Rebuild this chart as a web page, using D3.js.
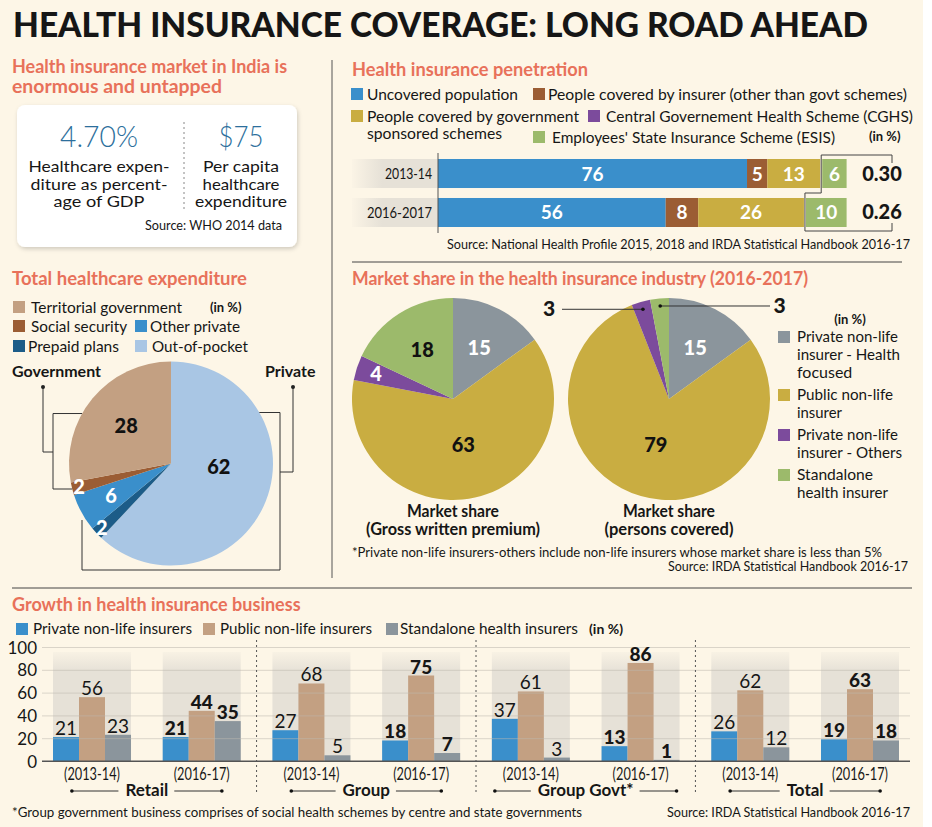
<!DOCTYPE html>
<html><head><meta charset="utf-8">
<script src="https://cdn.jsdelivr.net/npm/d3@7"></script>
<style>
body{margin:0;background:#fff;}
svg{display:block;font-family:Lato,"Open Sans",sans-serif;}
</style></head><body>
<svg id="c" width="932" height="827"></svg>
<script>
// ---------------- DATA ----------------
const statValues = ["4.70%", "$75"];
const statLabels = [["Healthcare expen-", "diture as percent-", "age of GDP"], ["Per capita", "healthcare", "expenditure"]];

const penetrationYears = ["2013-14", "2016-2017"];
const penetrationKeys = ["Uncovered population", "People covered by insurer (other than govt schemes)", "People covered by government sponsored schemes", "Employees' State Insurance Scheme (ESIS)"];
const uncoveredPop = [76, 56];
const insurerCovered = [5, 8];
const govtSchemes = [13, 26];
const esisCovered = [6, 10];
const cghsCovered = ["0.30", "0.26"];

const expenditureCats = ["Territorial government", "Social security", "Other private", "Prepaid plans", "Out-of-pocket"];
const expenditureVals = [28, 2, 6, 2, 62];

const marketCats = ["Private non-life insurer - Health focused", "Public non-life insurer", "Private non-life insurer - Others", "Standalone health insurer"];
const marketGWP = [15, 63, 4, 18];
const marketPersons = [15, 79, 3, 3];

const growthGroups = ["Retail", "Group", "Group Govt*", "Total"];
const growthPeriods = ["(2013-14)", "(2016-17)"];
const growthSeries = ["Private non-life insurers", "Public non-life insurers", "Standalone health insurers"];
const privateNonLife = [21, 21, 27, 18, 37, 13, 26, 19];
const publicNonLife = [56, 44, 68, 75, 61, 86, 62, 63];
const standaloneHealth = [23, 35, 5, 7, 3, 1, 12, 18];
const growthTicks = [0, 20, 40, 60, 80, 100];

// ---------------- STYLE ----------------
const C = {cream:"#fdf6e7", orange:"#e8715a", blue:"#3a8fcb", brown:"#9b5d34", gold:"#c9ad41",
  purple:"#7c4b9c", green:"#9cba6b", grey:"#8b959c", tan:"#c3a082", lightblue:"#a9c6e4",
  darkblue:"#1c5c88", ink:"#161616", band:"#e6e1d7", statBlue:"#2d6f9c"};

const svg = d3.select("#c");
const defs = svg.append("defs");
const f = defs.append("filter").attr("id","sh").attr("x","-10%").attr("y","-10%").attr("width","120%").attr("height","130%");
f.append("feDropShadow").attr("dx",1).attr("dy",2).attr("stdDeviation",2).attr("flood-opacity",0.18);
const gh = defs.append("linearGradient").attr("id","gh").attr("x1",0).attr("x2",1).attr("y1",0).attr("y2",0);
gh.append("stop").attr("offset",0).attr("stop-color",C.band).attr("stop-opacity",0.1);
gh.append("stop").attr("offset",0.35).attr("stop-color",C.band).attr("stop-opacity",1);
gh.append("stop").attr("offset",1).attr("stop-color",C.band).attr("stop-opacity",1);
const gv = defs.append("linearGradient").attr("id","gv").attr("x1",0).attr("x2",0).attr("y1",0).attr("y2",1);
gv.append("stop").attr("offset",0).attr("stop-color",C.band).attr("stop-opacity",0.2);
gv.append("stop").attr("offset",0.18).attr("stop-color",C.band).attr("stop-opacity",1);
gv.append("stop").attr("offset",1).attr("stop-color",C.band).attr("stop-opacity",1);

function txt(g, x, y, s, o = {}) {
  const t = g.append("text").attr("x", x).attr("y", y).text(s)
    .attr("font-size", o.size || 16).attr("font-weight", o.weight || 400)
    .attr("fill", o.fill || C.ink).attr("text-anchor", o.anchor || "start");
  if (o.w) {
    const L = t.node().getComputedTextLength();
    if (Math.abs(L - o.w) > 1.5) t.attr("textLength", o.w).attr("lengthAdjust", "spacingAndGlyphs");
  }
  return t;
}

svg.append("rect").attr("width", 923).attr("height", 827).attr("fill", C.cream);

// main title
txt(svg, 13, 37, "HEALTH INSURANCE COVERAGE: LONG ROAD AHEAD", {size: 34, weight: 900, w: 855});

// dividers
svg.append("line").attr("x1",332).attr("x2",332).attr("y1",60).attr("y2",578).attr("stroke","#555").attr("stroke-width",1);
svg.append("line").attr("x1",352).attr("x2",902).attr("y1",262).attr("y2",262).attr("stroke","#444").attr("stroke-width",1);
svg.append("line").attr("x1",12).attr("x2",912).attr("y1",588).attr("y2",588).attr("stroke","#444").attr("stroke-width",1);

// ---------------- A: key stats ----------------
txt(svg, 12, 73, "Health insurance market in India is", {size:18, weight:700, fill:C.orange, w:276});
txt(svg, 12, 93, "enormous and untapped", {size:18, weight:700, fill:C.orange, w:210});
svg.append("rect").attr("x",17).attr("y",105).attr("width",280).attr("height",142).attr("rx",8)
  .attr("fill","#fff").attr("filter","url(#sh)");
const statX = [99, 241];
const statW = [78, 45];
const labW = [[141,137,91],[76,77,92]];
statValues.forEach((v,i) => {
  txt(svg, statX[i], 147, v, {size:29, weight:300, fill:C.statBlue, anchor:"middle", w:statW[i]});
  statLabels[i].forEach((l,j) => txt(svg, statX[i], 172 + j*17.5, l, {size:16, anchor:"middle", w:labW[i][j]}));
});
svg.append("line").attr("x1",184).attr("x2",184).attr("y1",122).attr("y2",212)
  .attr("stroke","#888").attr("stroke-dasharray","2,3");
txt(svg, 282, 230, "Source: WHO 2014 data", {size:13.5, anchor:"end", w:137});

// ---------------- B: penetration ----------------
txt(svg, 352, 76, "Health insurance penetration", {size:18, weight:700, fill:C.orange, w:236});
const penColors = [C.blue, C.brown, C.gold, C.green];
const penLegend = [
  {c:C.blue, x:351, y:88, tx:367, lines:["Uncovered population"], w:[151]},
  {c:C.brown, x:533, y:88, tx:548, lines:["People covered by insurer (other than govt schemes)"], w:[359]},
  {c:C.gold, x:351, y:110, tx:367, lines:["People covered by government", "sponsored schemes"], w:[212,135]},
  {c:C.purple, x:588, y:110, tx:606, lines:["Central Governement Health Scheme (CGHS)"], w:[307]},
  {c:C.green, x:533, y:131, tx:552, lines:["Employees' State Insurance Scheme (ESIS)"], w:[283]}
];
penLegend.forEach(d => {
  svg.append("rect").attr("x",d.x).attr("y",d.y).attr("width",12).attr("height",12).attr("fill",d.c);
  d.lines.forEach((l,j) => txt(svg, d.tx, d.y + 12 + j*17, l, {size:16, w:d.w[j]}));
});
txt(svg, 869, 141, "(in %)", {size:13, weight:700, w:33});

const penRows = penetrationYears.map((y,i) => ({year:y, u:uncoveredPop[i], i1:insurerCovered[i], g:govtSchemes[i], e:esisCovered[i], cghs:cghsCovered[i]}));
const stack = d3.stack().keys(["u","i1","g","e"])(penRows);
const px = d3.scaleLinear().domain([0,100]).range([438, 844.6]);
const py = d3.scaleBand().domain(penetrationYears).range([159,227]).paddingInner(0.256).paddingOuter(0);
penetrationYears.forEach(y => {
  svg.append("rect").attr("x",352).attr("y",py(y)).attr("width",86).attr("height",py.bandwidth()).attr("fill","url(#gh)");
  txt(svg, 432, py(y) + py.bandwidth()/2 + 5.5, y, {size:15.5, anchor:"end", w: y.length > 7 ? 65 : 47});
});
stack.forEach((s,k) => {
  const gap = k === 3 ? 2 : 0;
  s.forEach((d,i) => {
    const x0 = px(d[0]) + gap, x1 = px(d[1]) + gap;
    svg.append("rect").attr("x",x0).attr("y",py(penetrationYears[i])).attr("width",x1-x0)
      .attr("height",py.bandwidth()).attr("fill",penColors[k]);
    txt(svg, (x0+x1)/2, py(penetrationYears[i]) + py.bandwidth()/2 + 7, d[1]-d[0],
      {size:19, weight:700, fill:"#fff", anchor:"middle"});
  });
});
svg.append("line").attr("x1",438).attr("x2",438).attr("y1",153).attr("y2",233).attr("stroke","#555");
// bracket around ESIS & CGHS
{
  const xa = px(stack[2][0][1]) + 1, xb = px(stack[2][1][1]) + 1, xr = 892;
  const top = 155, bot = 231, mid = (py(penetrationYears[0]) + py.bandwidth() + py(penetrationYears[1]))/2;
  svg.append("path").attr("d",`M${xr},${top+8}V${top}H${xa}V${mid}H${xb}V${bot}H${xr}V${bot-8}`)
    .attr("fill","none").attr("stroke","#444").attr("stroke-width",1);
}
penRows.forEach(r => txt(svg, 882, py(r.year) + py.bandwidth()/2 + 7, r.cghs, {size:20, weight:900, anchor:"middle", w:41}));
txt(svg, 910, 249, "Source: National Health Profile 2015, 2018 and IRDA Statistical Handbook 2016-17", {size:13.5, anchor:"end", w:463});

// ---------------- C: total healthcare expenditure ----------------
txt(svg, 12, 285, "Total healthcare expenditure", {size:18, weight:700, fill:C.orange, w:235});
const expColors = [C.tan, C.brown, C.blue, C.darkblue, C.lightblue];
const expLabelFill = ["#111", "#fff", "#fff", "#fff", "#111"];
const expLegend = [
  {i:0, x:13, y:301, tx:31, w:151},
  {i:1, x:13, y:320, tx:31, w:96},
  {i:2, x:135, y:320, tx:150, w:90},
  {i:3, x:13, y:340, tx:28, w:91},
  {i:4, x:135, y:340, tx:152, w:96}
];
expLegend.forEach(d => {
  svg.append("rect").attr("x",d.x).attr("y",d.y).attr("width",12).attr("height",12).attr("fill",expColors[d.i]);
  txt(svg, d.tx, d.y + 11.5, expenditureCats[d.i], {size:16, w:d.w});
});
txt(svg, 210, 312, "(in %)", {size:13, weight:700, w:33});
txt(svg, 12, 377, "Government", {size:16, weight:700, w:88});
txt(svg, 265, 377, "Private", {size:16, weight:700, w:50});

const ecx = 171, ecy = 463.5, er = 102;
const expOrder = [4, 3, 2, 1, 0];
const expPie = d3.pie().sort(null).value(d => d.v)(expOrder.map(i => ({i, v:expenditureVals[i]})));
const arcE = d3.arc().innerRadius(0).outerRadius(er);
const gE = svg.append("g").attr("transform",`translate(${ecx},${ecy})`);
gE.selectAll("path").data(expPie).join("path").attr("d",arcE).attr("fill",d => expColors[d.data.i]);
function labelFactor(v){ return v <= 2 ? 0.93 : v <= 4 ? 0.8 : v < 10 ? 0.67 : v < 50 ? 0.57 : 0.47; }
expPie.forEach(d => {
  // largest slice label sits a little higher (closer to horizontal) as in the reference
  const a0 = (d.startAngle + d.endAngle)/2;
  const a = d.data.v >= 50 ? a0 - 0.3 : a0;
  const rr = er * labelFactor(d.data.v);
  txt(gE, Math.sin(a)*rr, -Math.cos(a)*rr + 7, d.data.v, {size:20, weight:900, fill:expLabelFill[d.data.i], anchor:"middle"});
});
// brackets
{
  const ln = {fill:"none", stroke:"#333", "stroke-width":1};
  const yTop = ecy - 0.49*er, yBotG = ecy + 0.25*er;
  const edgeX = dy => ecx - Math.sqrt(er*er - dy*dy);
  const pg = svg.append("path").attr("d",
    `M${edgeX(yTop-ecy)},${yTop}H${ecx-118}V${yBotG}H${edgeX(yBotG-ecy)}M${ecx-118},${ecy-11.5}H${ecx-128}V${ecy-76.5}`);
  const pp = svg.append("path").attr("d",
    `M${ecx + Math.sqrt(er*er - (0.5*er)**2)},${ecy-0.5*er}H${ecx+109}V${ecy+106.5}H${ecx-89}V${ecy+56.5}M${ecx+109},${ecy+8.5}H${ecx+122}V${ecy-76.5}`);
  [pg, pp].forEach(p => Object.entries(ln).forEach(([k,v]) => p.attr(k,v)));
  [[ecx-128, ecy-76.5],[ecx+122, ecy-76.5]].forEach(p => svg.append("circle").attr("cx",p[0]).attr("cy",p[1]).attr("r",2).attr("fill","#222"));
}

// ---------------- D: market share ----------------
txt(svg, 352, 285, "Market share in the health insurance industry (2016-2017)", {size:18, weight:700, fill:C.orange, w:456});
const mColors = [C.grey, C.gold, C.purple, C.green];
const mLabelFill = ["#fff", "#111", "#fff", "#111"];
const mr = 101, mcy = 399;
const marketPies = [
  {vals: marketGWP, cx: 453, cap: ["Market share", "(Gross written premium)"], capW: [92,174]},
  {vals: marketPersons, cx: 669, cap: ["Market share", "(persons covered)"], capW: [92,128]}
];
const arcM = d3.arc().innerRadius(0).outerRadius(mr);
marketPies.forEach((p, pi) => {
  const arcs = d3.pie().sort(null).value(d => d)(p.vals);
  const g = svg.append("g").attr("transform",`translate(${p.cx},${mcy})`);
  g.selectAll("path").data(arcs).join("path").attr("d",arcM).attr("fill",(d,i) => mColors[i]);
  let extCount = 0;
  arcs.forEach((d,i) => {
    const a = (d.startAngle + d.endAngle)/2;
    if (pi === 1 && d.value <= 3) {
      const rr = mr*0.925, dx = Math.sin(a)*rr, dy = -Math.cos(a)*rr;
      const left = extCount === 0; extCount++;
      const xe = left ? -mr - 6 : mr;
      g.append("line").attr("x1",dx).attr("y1",dy).attr("x2",xe).attr("y2",dy).attr("stroke","#333").attr("stroke-width",1);
      g.append("circle").attr("cx",dx).attr("cy",dy).attr("r",1.8).attr("fill","#111");
      txt(g, left ? -mr - 19 : mr + 9.5, dy + 7, d.value, {size:21, weight:900, anchor:"middle"});
    } else {
      const rr = mr * labelFactor(d.value);
      txt(g, Math.sin(a)*rr, -Math.cos(a)*rr + 7, d.value, {size:20, weight:900, fill:mLabelFill[i], anchor:"middle"});
    }
  });
  p.cap.forEach((c,j) => txt(svg, p.cx, 517 + j*18, c, {size:16.5, weight:700, anchor:"middle", w:p.capW[j]}));
});
txt(svg, 850, 324, "(in %)", {size:13, weight:700, anchor:"middle", w:33});
const mLegendLines = [["Private non-life", "insurer - Health", "focused"], ["Public non-life", "insurer"], ["Private non-life", "insurer - Others"], ["Standalone", "health insurer"]];
const mLegendW = [[101,103,54],[96,45],[101,105],[76,91]];
let ly = 342;
mLegendLines.forEach((lines,i) => {
  svg.append("rect").attr("x",778).attr("y",ly-11).attr("width",12).attr("height",12).attr("fill",mColors[i]);
  lines.forEach((l,j) => txt(svg, 797, ly + j*18, l, {size:16, w:mLegendW[i][j]}));
  ly += lines.length*18 + 4;
});
txt(svg, 352, 557, "*Private non-life insurers-others include non-life insurers whose market share is less than 5%", {size:13.5, w:530});
txt(svg, 908, 571, "Source: IRDA Statistical Handbook 2016-17", {size:13.5, anchor:"end", w:240});

// ---------------- E: growth ----------------
txt(svg, 12, 611, "Growth in health insurance business", {size:18, weight:700, fill:C.orange, w:290});
const gColors = [C.blue, C.tan, C.grey];
const gLeg = [{x:16, tx:33, w:159}, {x:203, tx:220, w:152}, {x:386, tx:400, w:178}];
growthSeries.forEach((s,i) => {
  svg.append("rect").attr("x",gLeg[i].x).attr("y",623).attr("width",12).attr("height",12).attr("fill",gColors[i]);
  txt(svg, gLeg[i].tx, 634, s, {size:16, w:gLeg[i].w});
});
txt(svg, 589, 634, "(in %)", {size:13, weight:700, w:34});

const clusters = [];
growthGroups.forEach((g,gi) => growthPeriods.forEach((p,pi) => {
  const k = gi*2 + pi;
  clusters.push({key:k, group:g, period:p, pi, vals:[privateNonLife[k], publicNonLife[k], standaloneHealth[k]]});
}));
const gy = d3.scaleLinear().domain([0,100]).range([761, 647]);
const gx0 = d3.scaleBand().domain(clusters.map(d => d.key)).range([53, 899]).paddingInner(0.289).paddingOuter(0);
const gx1 = d3.scaleBand().domain([0,1,2]).range([0, gx0.bandwidth()]).padding(0);

const axisG = svg.append("g").attr("transform","translate(42,0)")
  .call(d3.axisLeft(gy).tickValues(growthTicks).tickSize(-868).tickPadding(5));
axisG.select(".domain").remove();
axisG.selectAll(".tick line").attr("stroke", d => d === 0 ? "#555" : "#bdb8ae").attr("stroke-width",1);
axisG.selectAll(".tick text").attr("font-size",17).attr("fill",C.ink).attr("font-family","Lato,sans-serif").attr("dy","0.36em");

const cl = svg.append("g");
clusters.forEach(c => {
  cl.append("rect").attr("x",gx0(c.key)).attr("y",652).attr("width",gx0.bandwidth()).attr("height",761-652).attr("fill","url(#gv)");
});
axisG.raise();
axisG.selectAll(".tick line").attr("stroke-opacity", d => d === 0 ? 1 : 0.55);
clusters.forEach(c => {
  c.vals.forEach((v,i) => {
    const x = gx0(c.key) + gx1(i);
    cl.append("rect").attr("x",x).attr("y",gy(v)).attr("width",gx1.bandwidth()).attr("height",gy(0)-gy(v)).attr("fill",gColors[i]);
  });
});
svg.append("line").attr("x1",42).attr("x2",910).attr("y1",gy(0)).attr("y2",gy(0)).attr("stroke","#555");
clusters.forEach(c => {
  c.vals.forEach((v,i) => {
    const x = gx0(c.key) + gx1(i) + gx1.bandwidth()/2;
    txt(svg, x, gy(v) - 2, v, {size:19, weight: c.pi === 1 ? 900 : 400, anchor:"middle"});
  });
  txt(svg, gx0(c.key) + gx0.bandwidth()/2, 780, c.period, {size:16.5, anchor:"middle", w:56});
});
for (let gi = 1; gi < growthGroups.length; gi++) {
  const xs = (gx0(gi*2 - 1) + gx0.bandwidth() + gx0(gi*2)) / 2;
  svg.append("line").attr("x1",xs).attr("x2",xs).attr("y1",640).attr("y2",793)
    .attr("stroke","#555").attr("stroke-dasharray","2,3");
}
growthGroups.forEach((g,gi) => {
  const xm = (gx0(gi*2) + gx0(gi*2+1) + gx0.bandwidth())/2;
  const t = txt(svg, xm, 796, g, {size:17, weight:700, anchor:"middle"});
  const half = t.node().getComputedTextLength()/2;
  const dd = Math.max(75, half + 43);
  [[xm - dd, xm - half - 7], [xm + half + 6, xm + dd]].forEach(s =>
    svg.append("line").attr("x1",s[0]).attr("x2",s[1]).attr("y1",791).attr("y2",791).attr("stroke","#333"));
  [xm - dd, xm + dd].forEach(x => svg.append("circle").attr("cx",x).attr("cy",791).attr("r",1.8).attr("fill","#111"));
});
txt(svg, 12, 817, "*Group government business comprises of social health schemes by centre and state governments", {size:13.5, w:570});
txt(svg, 910, 817, "Source: IRDA Statistical Handbook 2016-17", {size:13.5, anchor:"end", w:243});
</script>
</body></html>
